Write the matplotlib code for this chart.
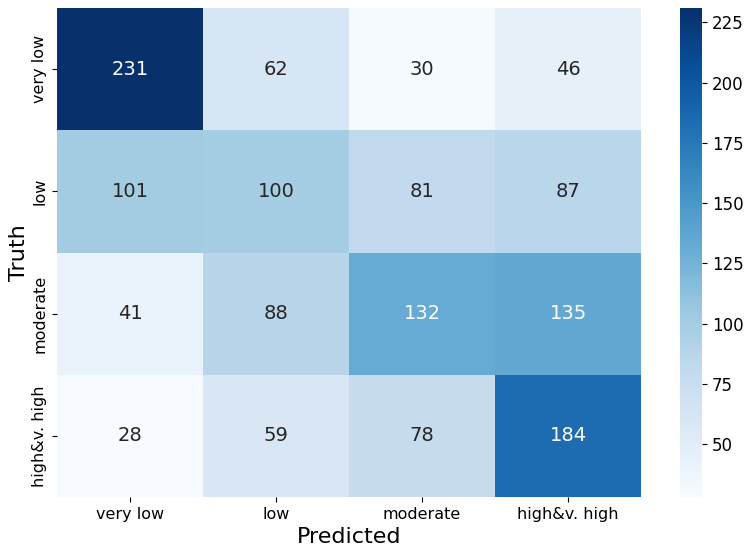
import numpy as np
import matplotlib
matplotlib.use("Agg")
import matplotlib.pyplot as plt
import seaborn as sns

# confusion matrix values
etiquetas = ["very low", "low", "moderate", "high&v. high"]
fila_very_low = [231, 62, 30, 46]
fila_low = [101, 100, 81, 87]
fila_moderate = [41, 88, 132, 135]
fila_high = [28, 59, 78, 184]
matriz = np.array([fila_very_low, fila_low, fila_moderate, fila_high])

fig = plt.figure(figsize=(7.48, 5.54), dpi=100)
ax = fig.add_axes([57/748, 57/554, 584/748, 489/554])
cax = fig.add_axes([680/748, 57/554, 22/748, 489/554])

sns.heatmap(matriz, annot=True, fmt="d", cmap="Blues", ax=ax, cbar_ax=cax,
            xticklabels=etiquetas, yticklabels=etiquetas,
            annot_kws={"fontsize": 14})
cax.tick_params(labelsize=12)
cax.set_yticks([50, 75, 100, 125, 150, 175, 200, 225])
ax.tick_params(labelsize=11.5)
plt.setp(ax.get_yticklabels(), rotation=90, va="center")
ax.set_xlabel("Predicted", fontsize=16)
ax.set_ylabel("Truth", fontsize=16, labelpad=2)

fig.savefig("out.png", dpi=100)
